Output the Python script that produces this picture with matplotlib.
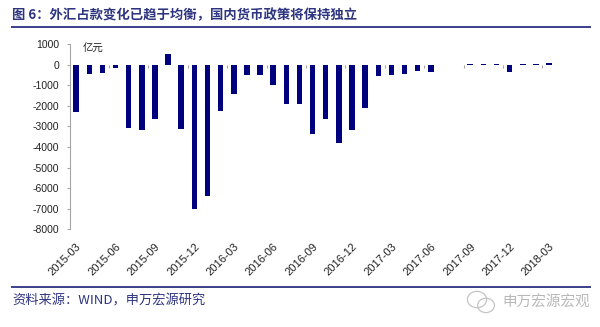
import matplotlib
matplotlib.use("Agg")
import matplotlib.pyplot as plt
import numpy as np
from matplotlib.patches import Ellipse

# 外汇占款月度变化（亿元），2017-07/08 无数据
months = [
    "2015-03", "2015-04", "2015-05", "2015-06", "2015-07", "2015-08",
    "2015-09", "2015-10", "2015-11", "2015-12", "2016-01", "2016-02",
    "2016-03", "2016-04", "2016-05", "2016-06", "2016-07", "2016-08",
    "2016-09", "2016-10", "2016-11", "2016-12", "2017-01", "2017-02",
    "2017-03", "2017-04", "2017-05", "2017-06", "2017-07", "2017-08",
    "2017-09", "2017-10", "2017-11", "2017-12", "2018-01", "2018-02",
    "2018-03",
]
fx_change = [
    -2300, -470, -390, -180, -3080, -3190,
    -2620, 530, -3140, -7040, -6390, -2250,
    -1440, -520, -520, -970, -1910, -1910,
    -3370, -2660, -3820, -3170, -2090, -550,
    -520, -440, -290, -360, np.nan, np.nan,
    30, 30, 30, -360, 30, 30,
    70,
]
yticks = list(range(1000, -8001, -1000))

title = "图 6：外汇占款变化已趋于均衡，国内货币政策将保持独立"
source = "资料来源：WIND，申万宏源研究"
watermark = "申万宏源宏观"
unit = "亿元"

NAVY = "#00007f"
HEAD = "#2e3580"
GREY = "#a6a6a6"
cjk = ["Noto Sans CJK SC", "DejaVu Sans"]

plt.rcParams["font.family"] = ["Liberation Sans", "Noto Sans CJK SC"]

fig = plt.figure(figsize=(6.0, 3.27), dpi=100)
ax = fig.add_axes([0.116, 0.299, 0.810, 0.566])

x = np.arange(len(months))
vals = np.array(fx_change, dtype=float)
ax.bar(x, vals, width=0.42, color=NAVY, zorder=3)

ax.set_xlim(-0.5, len(months) - 0.5)
ax.set_ylim(-8000, 1000)
ax.set_yticks(yticks)
ax.set_yticklabels([str(v) for v in yticks], fontsize=7.5, color="#222222")
ax.tick_params(axis="y", direction="out", length=2.5, width=0.8, color=GREY, pad=5)

for s in ("top", "right", "bottom"):
    ax.spines[s].set_visible(False)
ax.spines["left"].set_color(GREY)
ax.spines["left"].set_linewidth(0.8)

# quarterly labels along the bottom
lab_idx = list(range(0, len(months), 3))
ax.set_xticks(lab_idx)
ax.set_xticklabels([months[i] for i in lab_idx], rotation=45, ha="right",
                   rotation_mode="anchor", fontsize=8, color="#222222")
ax.tick_params(axis="x", length=0, pad=9)

# zero line with small tick marks at quarter boundaries
zero_pos = (0 - (-8000)) / (1000 - (-8000))
zax = ax.secondary_xaxis(zero_pos)
zax.set_xticks([i - 0.5 for i in lab_idx])
zax.set_xticklabels([])
zax.tick_params(direction="in", length=2.5, width=0.8, color=GREY)
zax.spines["bottom"].set_color(GREY)
zax.spines["bottom"].set_linewidth(1.0)
for s in ("top", "left", "right"):
    zax.spines[s].set_visible(False)

ax.text(0.027, 0.975, unit, transform=ax.transAxes, fontsize=7.5,
        family=cjk, color="#222222", va="center", ha="left")

# header and footer
fig.text(0.02, 0.955, title, fontsize=9.6, fontweight="bold", family=cjk,
         color=HEAD, va="center", ha="left")
fig.add_artist(plt.Line2D([0.02, 0.983], [0.917, 0.917], color="#3b3f8c",
                          lw=1.4, transform=fig.transFigure))
fig.add_artist(plt.Line2D([0.02, 0.983], [0.121, 0.121], color="#3b3f8c",
                          lw=1.4, transform=fig.transFigure))
fig.text(0.02, 0.078, source, fontsize=9.5, family=cjk, color=HEAD,
         va="center", ha="left")

# wechat-style mark next to the watermark
for cx, cy, w, h in [(0.795, 0.084, 0.032, 0.050), (0.810, 0.066, 0.028, 0.044)]:
    fig.add_artist(Ellipse((cx, cy), w, h, transform=fig.transFigure,
                           fill=False, ec="#c4c4c4", lw=0.9))
fig.text(0.983, 0.078, watermark, fontsize=10.5, family=cjk, color="#b8b8b8",
         va="center", ha="right")

fig.savefig("out.png", dpi=100)
